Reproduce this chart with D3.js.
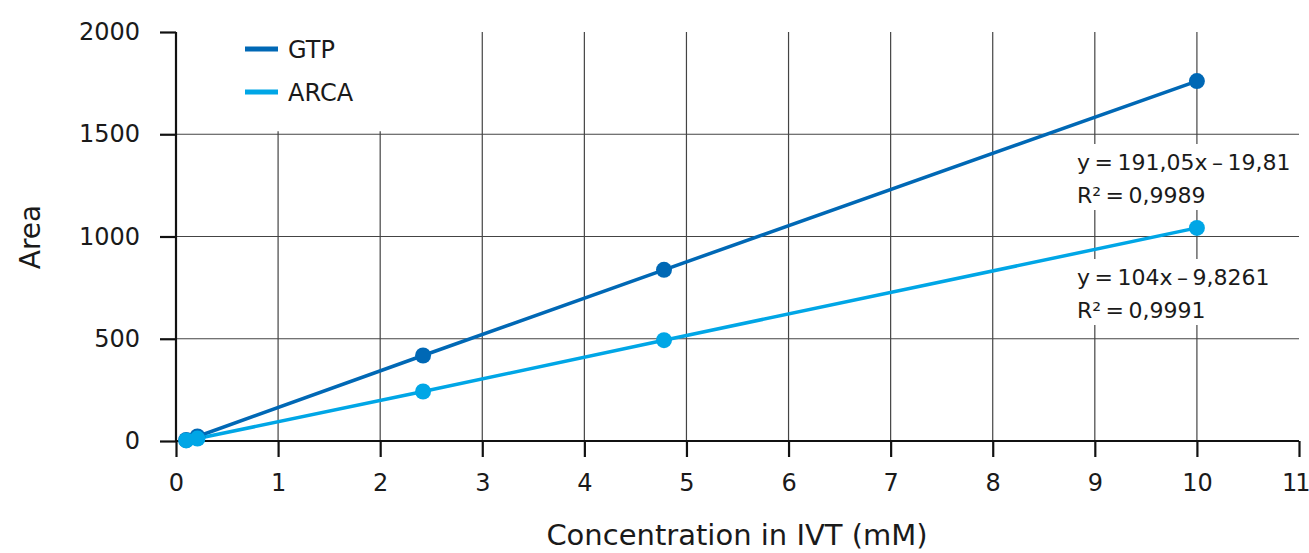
<!DOCTYPE html>
<html>
<head>
<meta charset="utf-8">
<script src="https://cdn.jsdelivr.net/npm/d3@7"></script>
<style>
  body { margin: 0; background: #fff; }
  text { font-family: "DejaVu Sans", "Open Sans", sans-serif; fill: #1a1a1a; }
</style>
</head>
<body>
<svg id="chart"></svg>
<script>
// data
const seriesNames = ["GTP", "ARCA"];
const gtpX = [0.1, 0.21, 2.42, 4.78, 10];
const gtpY = [5, 22, 418, 837, 1760];
const arcaX = [0.1, 0.21, 2.42, 4.78, 10];
const arcaY = [3, 12, 242, 493, 1042];
const xTicks = [0, 1, 2, 3, 4, 5, 6, 7, 8, 9, 10, 11];
const yTicks = [0, 500, 1000, 1500, 2000];
const fitLines = [
  ["y = 191,05x – 19,81", "R² = 0,9989"],
  ["y = 104x – 9,8261", "R² = 0,9991"]
];

const colors = ["#0068b5", "#00a6e6"];

const svgWidth = 1309, svgHeight = 553;
const margin = { top: 32, right: 10, bottom: 112, left: 176 };
const width = 1299 - margin.left;
const height = 441 - margin.top;

const svg = d3.select("#chart")
  .attr("width", svgWidth)
  .attr("height", svgHeight)
  .append("g")
  .attr("transform", `translate(${margin.left},${margin.top})`);

const x = d3.scaleLinear().domain([0, 11]).range([0, width]);
const y = d3.scaleLinear().domain([0, 2000]).range([height, 0]);

// grid
svg.append("g")
  .selectAll("line")
  .data(xTicks.filter(d => d > 0 && d < 11))
  .enter().append("line")
  .attr("x1", d => x(d)).attr("x2", d => x(d))
  .attr("y1", 0).attr("y2", height)
  .attr("stroke", "#444").attr("stroke-width", 1.2);

svg.append("g")
  .selectAll("line")
  .data(yTicks.filter(d => d > 0 && d < 2000))
  .enter().append("line")
  .attr("x1", 0).attr("x2", width)
  .attr("y1", d => y(d)).attr("y2", d => y(d))
  .attr("stroke", "#444").attr("stroke-width", 1.2);

// legend box hides part of grid
svg.append("rect")
  .attr("x", 2).attr("y", -2)
  .attr("width", x(2.6) - 2).attr("height", y(1500) - 1)
  .attr("fill", "#fff");

// white boxes behind the fit labels
const labelX = 1077 - margin.left;
const labelBase = [170, 285];
labelBase.forEach(b => {
  svg.append("rect")
    .attr("x", labelX - 4).attr("y", b - 26 - margin.top)
    .attr("width", 210).attr("height", 66)
    .attr("fill", "#fff");
});

// axes
const xAxis = svg.append("g")
  .attr("transform", `translate(0,${height})`)
  .call(d3.axisBottom(x).tickValues(xTicks).tickSize(16).tickPadding(17).tickFormat(d3.format("d")));
const yAxis = svg.append("g")
  .call(d3.axisLeft(y).tickValues(yTicks).tickSize(16).tickPadding(20).tickFormat(d3.format("d")));

[xAxis, yAxis].forEach(g => {
  g.select(".domain").attr("stroke", "#111").attr("stroke-width", 2.2);
  g.selectAll(".tick line").attr("stroke", "#111").attr("stroke-width", 2.2);
  g.selectAll(".tick text").style("font-size", "24px").attr("fill", "#1a1a1a");
});
xAxis.select(".domain").attr("d", `M0,0H${width}`);
yAxis.select(".domain").attr("d", `M0,${height}V0`);
// keep the last label inside the page
xAxis.selectAll(".tick text").filter(d => d === 11)
  .attr("text-anchor", "end").attr("x", 9).style("letter-spacing", "-2px");

// series
const series = [
  { name: seriesNames[0], pts: gtpX.map((v, i) => [v, gtpY[i]]) },
  { name: seriesNames[1], pts: arcaX.map((v, i) => [v, arcaY[i]]) }
];
const line = d3.line().x(d => x(d[0])).y(d => y(d[1]));

series.forEach((s, i) => {
  svg.append("path")
    .datum(s.pts)
    .attr("d", line)
    .attr("fill", "none")
    .attr("stroke", colors[i])
    .attr("stroke-width", 3.5);
});
series.forEach((s, i) => {
  svg.append("g")
    .selectAll("circle")
    .data(s.pts)
    .enter().append("circle")
    .attr("cx", d => x(d[0]))
    .attr("cy", d => y(d[1]))
    .attr("r", 8)
    .attr("fill", colors[i]);
});

// fit labels
fitLines.forEach((lines, i) => {
  lines.forEach((t, j) => {
    svg.append("text")
      .attr("x", labelX)
      .attr("y", labelBase[i] + j * 33 - margin.top)
      .style("font-size", "22px")
      .style("word-spacing", "-2.5px")
      .text(t);
  });
});

// legend
seriesNames.forEach((n, i) => {
  const ly = 49 + i * 43 - margin.top;
  svg.append("line")
    .attr("x1", 245 - margin.left).attr("x2", 278 - margin.left)
    .attr("y1", ly).attr("y2", ly)
    .attr("stroke", colors[i]).attr("stroke-width", 5);
  svg.append("text")
    .attr("x", 288 - margin.left).attr("y", ly + 9)
    .style("font-size", "24px")
    .text(n);
});

// axis titles
svg.append("text")
  .attr("x", 737 - margin.left)
  .attr("y", 545 - margin.top)
  .attr("text-anchor", "middle")
  .style("font-size", "29px")
  .text("Concentration in IVT (mM)");

svg.append("text")
  .attr("transform", `translate(${40 - margin.left},${237 - margin.top}) rotate(-90)`)
  .attr("text-anchor", "middle")
  .style("font-size", "28px")
  .text("Area");
</script>
</body>
</html>
